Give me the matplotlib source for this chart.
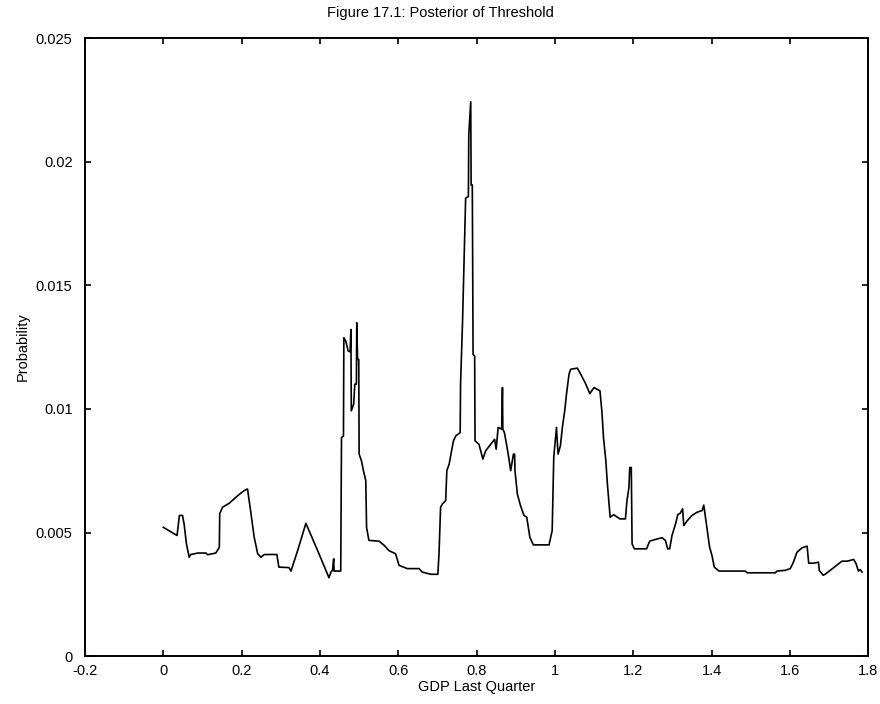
import matplotlib
matplotlib.use("Agg")
import matplotlib.pyplot as plt
from matplotlib.ticker import FuncFormatter

# posterior of threshold
gdp = [
    0.000, 0.035, 0.041, 0.049, 0.053, 0.059, 0.066, 0.070, 0.088, 0.109,
    0.113, 0.134, 0.143, 0.144, 0.151, 0.168, 0.190, 0.206, 0.215, 0.224,
    0.232, 0.241, 0.249, 0.258, 0.290, 0.295, 0.321, 0.326, 0.343, 0.364,
    0.372, 0.394, 0.423, 0.428, 0.432, 0.435, 0.436, 0.453, 0.455, 0.460,
    0.461, 0.466, 0.472, 0.477, 0.479, 0.480, 0.486, 0.489, 0.493, 0.494,
    0.496, 0.499, 0.500, 0.506, 0.511, 0.517, 0.519, 0.525, 0.551, 0.564,
    0.576, 0.593, 0.602, 0.623, 0.653, 0.661, 0.683, 0.701, 0.704, 0.708,
    0.713, 0.721, 0.724, 0.730, 0.736, 0.741, 0.747, 0.758, 0.759, 0.764,
    0.768, 0.772, 0.779, 0.780, 0.785, 0.786, 0.789, 0.791, 0.795, 0.796,
    0.806, 0.816, 0.823, 0.836, 0.846, 0.850, 0.855, 0.864, 0.866, 0.867,
    0.871, 0.877, 0.882, 0.887, 0.894, 0.897, 0.898, 0.904, 0.912, 0.921,
    0.928, 0.936, 0.945, 0.985, 0.993, 0.997, 1.004, 1.008, 1.014, 1.019,
    1.025, 1.030, 1.036, 1.040, 1.057, 1.065, 1.078, 1.089, 1.100, 1.115,
    1.120, 1.124, 1.130, 1.134, 1.141, 1.150, 1.166, 1.180, 1.184, 1.189,
    1.191, 1.195, 1.197, 1.203, 1.234, 1.242, 1.248, 1.261, 1.274, 1.282,
    1.288, 1.293, 1.299, 1.308, 1.314, 1.320, 1.326, 1.329, 1.338, 1.350,
    1.363, 1.376, 1.380, 1.382, 1.389, 1.395, 1.401, 1.407, 1.419, 1.486,
    1.491, 1.563, 1.567, 1.588, 1.601, 1.609, 1.618, 1.631, 1.644, 1.648,
    1.661, 1.673, 1.675, 1.685, 1.690, 1.703, 1.718, 1.733, 1.746, 1.763,
    1.769, 1.775, 1.780, 1.784,
]
prob = [
    0.00521, 0.00488, 0.00569, 0.00569, 0.00535, 0.00454, 0.00400, 0.00411, 0.00417, 0.00417,
    0.00410, 0.00417, 0.00440, 0.00576, 0.00602, 0.00618, 0.00649, 0.00669, 0.00676, 0.00575,
    0.00481, 0.00414, 0.00400, 0.00411, 0.00411, 0.00360, 0.00358, 0.00344, 0.00427, 0.00537,
    0.00508, 0.00427, 0.00317, 0.00340, 0.00347, 0.00394, 0.00344, 0.00344, 0.00884, 0.00890,
    0.01288, 0.01274, 0.01234, 0.01231, 0.01321, 0.00992, 0.01019, 0.01100, 0.01100, 0.01348,
    0.01200, 0.01200, 0.00817, 0.00790, 0.00750, 0.00710, 0.00521, 0.00468, 0.00465, 0.00448,
    0.00427, 0.00414, 0.00367, 0.00354, 0.00354, 0.00340, 0.00331, 0.00331, 0.00414, 0.00602,
    0.00616, 0.00629, 0.00750, 0.00777, 0.00830, 0.00871, 0.00891, 0.00904, 0.01100, 0.01348,
    0.01603, 0.01852, 0.01859, 0.02108, 0.02242, 0.01906, 0.01906, 0.01220, 0.01214, 0.00871,
    0.00857, 0.00797, 0.00830, 0.00857, 0.00877, 0.00837, 0.00925, 0.00918, 0.01086, 0.00918,
    0.00904, 0.00851, 0.00804, 0.00750, 0.00817, 0.00817, 0.00750, 0.00656, 0.00609, 0.00569,
    0.00562, 0.00481, 0.00450, 0.00450, 0.00508, 0.00804, 0.00925, 0.00817, 0.00851, 0.00925,
    0.00992, 0.01066, 0.01140, 0.01160, 0.01165, 0.01143, 0.01103, 0.01062, 0.01086, 0.01073,
    0.00988, 0.00884, 0.00790, 0.00696, 0.00562, 0.00572, 0.00555, 0.00555, 0.00629, 0.00683,
    0.00763, 0.00763, 0.00454, 0.00434, 0.00434, 0.00465, 0.00468, 0.00474, 0.00479, 0.00468,
    0.00434, 0.00434, 0.00488, 0.00535, 0.00573, 0.00578, 0.00596, 0.00528, 0.00548, 0.00569,
    0.00582, 0.00589, 0.00611, 0.00589, 0.00508, 0.00441, 0.00407, 0.00360, 0.00344, 0.00344,
    0.00337, 0.00337, 0.00344, 0.00347, 0.00354, 0.00380, 0.00420, 0.00438, 0.00445, 0.00376,
    0.00376, 0.00380, 0.00347, 0.00327, 0.00331, 0.00347, 0.00366, 0.00384, 0.00384, 0.00391,
    0.00374, 0.00344, 0.00350, 0.00340,
]

xticks = [-0.2, 0, 0.2, 0.4, 0.6, 0.8, 1.0, 1.2, 1.4, 1.6, 1.8]
yticks = [0, 0.005, 0.01, 0.015, 0.02, 0.025]

plt.rcParams.update({"font.family": ["Liberation Sans", "DejaVu Sans"], "font.size": 10.5})

fig = plt.figure(figsize=(8.8, 7.04), dpi=100)
ax = fig.add_axes([0.0966, 0.068, 0.890, 0.878])
ax.plot(gdp, prob, color="black", lw=1.2)

ax.set_xlim(-0.2, 1.8)
ax.set_ylim(0, 0.025)
ax.set_xticks(xticks)
ax.set_yticks(yticks)
fmt = FuncFormatter(lambda v, _: "%g" % round(v, 4))
ax.xaxis.set_major_formatter(fmt)
ax.yaxis.set_major_formatter(fmt)
# gnuplot look: inward ticks mirrored on all four sides
ax.tick_params(direction="in", top=True, right=True, length=4.5, width=1.2)
ax.tick_params(axis="x", pad=6)
ax.tick_params(axis="y", pad=9)
for s in ax.spines.values():
    s.set_linewidth(1.4)

ax.set_xlabel("GDP Last Quarter", labelpad=1)
ax.set_ylabel("Probability", labelpad=4)
fig.suptitle("Figure 17.1: Posterior of Threshold", y=0.992, fontsize=10.5)

fig.savefig("out.png", dpi=100)
